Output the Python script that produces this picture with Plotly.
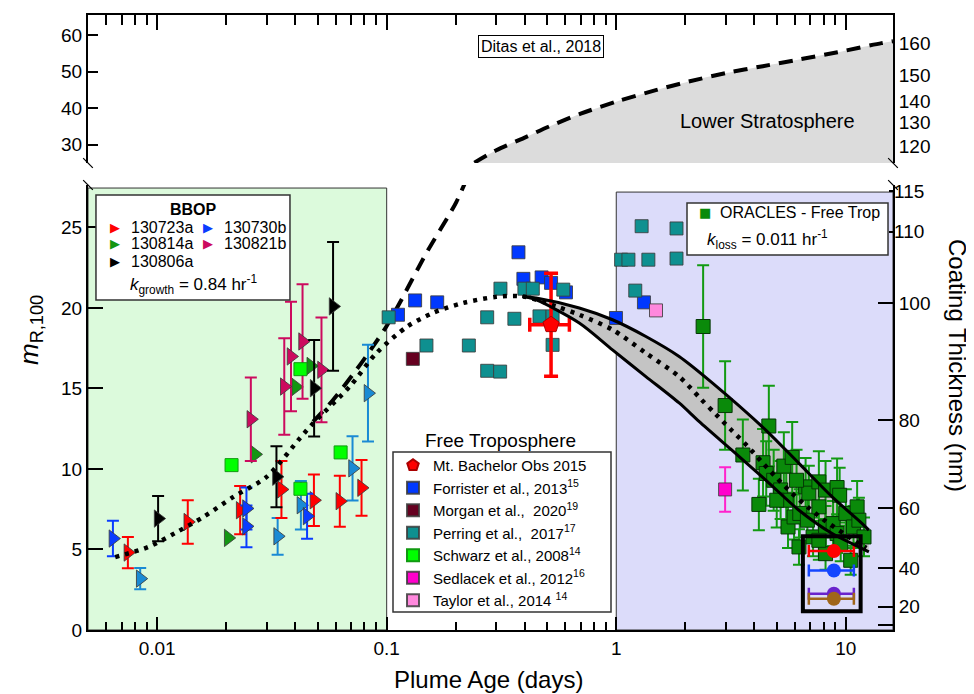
import numpy as np
import plotly.graph_objects as go

FONT = "Liberation Sans, Arial, sans-serif"

# ---------------- data ----------------
# BBOP flights: plume age (days), m_R,100, error
bbop_723a_x = [0.00746, 0.0136, 0.0230, 0.0348, 0.0482, 0.0625, 0.0777]
bbop_723a_y = [4.81, 6.71, 7.44, 8.73, 8.06, 8.00, 8.83]
bbop_723a_e = [0.97, 1.35, 1.5, 1.77, 1.6, 1.58, 1.73]

bbop_730b_x = [0.00642, 0.0245, 0.0245, 0.0450]
bbop_730b_y = [5.68, 7.55, 6.44, 7.07]
bbop_730b_e = [1.1, 1.3, 1.3, 1.4]

bbop_lb_x = [0.00844, 0.0335, 0.0423, 0.0710, 0.0829]
bbop_lb_y = [3.19, 5.82, 7.75, 10.04, 14.71]
bbop_lb_e = [0.66, 1.14, 1.5, 2.0, 3.0]

bbop_814a_x = [0.0204, 0.0267, 0.0402, 0.0467]
bbop_814a_y = [5.72, 10.91, 15.1, 16.4]

bbop_821b_x = [0.0256, 0.0358, 0.0383, 0.0430, 0.0520]
bbop_821b_y = [13.09, 15.12, 16.99, 17.92, 16.16]
bbop_821b_e = [2.6, 3.0, 3.4, 3.55, 3.25]

bbop_806a_x = [0.0101, 0.0331, 0.0483, 0.0584]
bbop_806a_y = [6.92, 9.52, 15.02, 20.10]
bbop_806a_e = [1.4, 1.9, 3.0, 4.0]

# literature
schwarz_x = [0.0211, 0.0421, 0.0421, 0.0630]
schwarz_y = [10.24, 16.2, 8.77, 11.03]

forrister_x = [0.112, 0.133, 0.166, 0.375, 0.394, 0.473, 0.520, 0.604, 0.997, 1.32]
forrister_y = [19.58, 20.47, 20.35, 23.46, 21.81, 21.90, 21.56, 20.97, 19.38, 20.35]

morgan_x = [0.130]
morgan_y = [16.84]

perring_x = [0.102, 0.149, 0.228, 0.274, 0.312, 0.274, 0.360, 0.313, 0.398, 0.433,
             0.463, 0.528, 0.588, 0.528, 1.29, 1.83, 1.05, 1.13, 1.38, 1.83, 1.21]
perring_y = [19.42, 17.67, 17.67, 16.10, 16.05, 19.42, 19.33, 21.20, 21.20, 21.20,
             19.48, 19.48, 21.14, 17.71, 25.08, 24.94, 23.0, 23.0, 23.0, 23.07, 21.08]

taylor_x = [1.49]
taylor_y = [19.85]

sedlacek_x = [2.98]
sedlacek_y = [8.73]
sedlacek_e = [1.38]

mtbach_x = [0.52]
mtbach_y = [18.96]
mtbach_ey = [3.2]
mtbach_ex_minus = [0.10]
mtbach_ex_plus = [0.105]

oracles_x = [2.39, 2.98, 3.56, 4.62, 4.18, 4.36, 4.50, 4.85, 5.20, 5.37, 5.50, 5.84, 5.60,
             5.95, 6.25, 6.68, 6.90, 6.30, 6.80, 7.63, 7.63, 7.20, 8.16, 8.16, 8.16, 7.63,
             9.16, 9.40, 8.80, 9.16, 9.50, 10.5, 10.0, 10.8, 11.2, 11.4, 12.0, 6.10, 5.00]
oracles_y = [18.85, 13.94, 10.87, 12.67, 7.80, 10.39, 9.72, 9.30, 8.70, 10.18, 8.06, 10.72, 6.40,
             7.02, 5.16, 8.89, 8.50, 7.24, 6.82, 9.20, 7.65, 5.78, 8.69, 6.40, 4.74, 5.57,
             8.85, 8.37, 6.61, 5.99, 5.37, 4.33, 7.24, 6.40, 7.65, 6.82, 5.78, 9.30, 8.06]
oracles_e = [3.8, 2.75, 2.2, 2.5, 1.6, 2.1, 2.0, 1.9, 1.8, 2.1, 1.7, 2.2, 1.3,
             1.4, 1.1, 1.8, 1.7, 1.5, 1.4, 1.9, 1.6, 1.2, 1.8, 1.3, 1.0, 1.2,
             1.8, 1.7, 1.4, 1.2, 1.1, 0.9, 1.5, 1.3, 1.6, 1.4, 1.2, 1.9, 1.7]

# points inside the black box (ORACLES region)
box_x = [8.87, 8.87, 8.87, 8.87]
box_y = [4.91, 3.70, 2.25, 1.94]
box_ex_minus = [1.97, 1.97, 1.97, 1.97]
box_ex_plus = [1.97, 1.97, 1.97, 1.97]
box_colors = ["#ff0000", "#1446ff", "#6a22cc", "#a0661a"]

# model curves
dotted_x = [0.00657, 0.00917, 0.0120, 0.0159, 0.0215, 0.0300, 0.0418, 0.0478, 0.069, 0.0902,
            0.123, 0.159, 0.2146, 0.300, 0.391, 0.547, 0.690, 0.963, 1.346, 1.879, 2.335,
            2.713, 3.172, 3.724, 4.30, 4.996, 5.84, 6.90, 8.16, 9.80, 11.39, 12.3]
dotted_y = [4.53, 5.16, 6.03, 7.02, 8.27, 9.51, 11.9, 12.84, 15.12, 17.2,
            18.85, 19.69, 20.31, 20.69, 20.72, 20.1, 19.58, 18.65, 17.2, 15.74, 14.35,
            13.4, 12.42, 11.43, 10.45, 9.45, 8.48, 7.58, 6.76, 5.99, 5.37, 5.1]

band_up_x = [0.39, 0.448, 0.69, 0.963, 1.346, 1.879, 2.62, 4.48, 6.25, 8.72, 11.78, 12.6]
band_up_y = [20.72, 20.62, 20.0, 19.27, 18.23, 16.99, 15.35, 12.42, 10.35, 8.27, 6.61, 6.2]
band_lo_x = [0.39, 0.448, 0.69, 0.963, 1.346, 1.879, 2.30, 3.18, 4.48, 6.25, 8.72, 11.78, 12.6]
band_lo_y = [20.72, 20.5, 19.07, 17.4, 15.74, 14.1, 12.94, 11.18, 9.31, 7.44, 5.99, 5.06, 4.85]

ditas_lo_x = [0.0478, 0.0584, 0.0738, 0.0872, 0.0997, 0.1139, 0.149, 0.201, 0.235]
ditas_lo_y = [12.94, 14.29, 16.16, 17.61, 18.85, 20.31, 23.42, 26.58, 28.8]
ditas_up_x = [0.241, 0.30, 0.397, 0.51, 0.70, 1.0, 1.5, 2.07, 3.0, 4.35, 6.35, 9.2, 14.3, 16.05]
ditas_up_y = [25.1, 28.5, 31.9, 35.0, 38.5, 41.8, 45.0, 47.3, 49.6, 51.5, 53.4, 55.3, 57.8, 58.3]

# axis ticks
x_tickvals = [0.01, 0.1, 1, 10]
x_ticktext = ["0.01", "0.1", "1", "10"]
x_minor = [m * 10.0 ** e for e in range(-3, 2) for m in range(2, 10)]
yl_ticks = [0, 5, 10, 15, 20, 25]
yu_ticks = [30, 40, 50, 60]
right_lo_vals = [0.28, 1.45, 3.83, 7.56, 13.04, 20.29]
right_lo_text = ["", "20", "40", "60", "80", "100"]
right_lo2_vals = [24.74, 27.27]
right_lo2_text = ["110", "115"]
right_up_vals = [29.6, 36.1, 41.8, 49.1, 57.7]
right_up_text = ["120", "130", "140", "150", "160"]

X_RANGE = [np.log10(0.005), np.log10(16.05)]
YL_RANGE = [0, 27.64]
YU_RANGE = [25, 65.5]
LOW_DOM = [0, 0.7236]
UP_DOM = [0.7593, 1]

OUT = "rgba(60,60,60,0.85)"
SPL = dict(shape="spline", smoothing=0.8)

fig = go.Figure()

# gray band (fill only)
fig.add_trace(go.Scatter(x=band_lo_x, y=band_lo_y, mode="lines", line=dict(width=0, **SPL),
                         showlegend=False, hoverinfo="skip"))
fig.add_trace(go.Scatter(x=band_up_x, y=band_up_y, mode="lines", line=dict(width=0, **SPL),
                         fill="tonexty", fillcolor="#c4c4c4", showlegend=False, hoverinfo="skip"))

# Ditas dashed curve (lower panel)
fig.add_trace(go.Scatter(x=ditas_lo_x, y=ditas_lo_y, mode="lines",
                         line=dict(color="black", width=4, dash="14px,9px", **SPL),
                         showlegend=False, hoverinfo="skip"))
# Ditas (upper panel) with stratosphere fill
fig.add_trace(go.Scatter(x=ditas_up_x, y=ditas_up_y, mode="lines", xaxis="x2", yaxis="y2",
                         line=dict(color="black", width=4, dash="14px,9px", **SPL),
                         fill="tozeroy", fillcolor="#dcdcdc", showlegend=False, hoverinfo="skip"))


def sq(x, y, color, name=None, rank=None, size=13, err=None, ecolor=None, lcolor=OUT):
    return go.Scatter(
        x=x, y=y, mode="markers", name=name, showlegend=name is not None,
        legendrank=rank if rank else 1000,
        marker=dict(symbol="square", size=size, color=color, line=dict(color=lcolor, width=1)),
        error_y=dict(type="data", array=err, visible=err is not None,
                     color=ecolor or color, thickness=2, width=6),
        hoverinfo="skip")


def tri(x, y, color, err=None, ecolor=None):
    return go.Scatter(
        x=x, y=y, mode="markers", showlegend=False,
        marker=dict(symbol="triangle-right", size=15, color=color, line=dict(color=OUT, width=1)),
        error_y=dict(type="data", array=err, visible=err is not None,
                     color=ecolor or color, thickness=2, width=6),
        hoverinfo="skip")


# ORACLES
fig.add_trace(sq(oracles_x, oracles_y, "#0a8a0a", size=14, err=oracles_e, ecolor="#129a12",
                 lcolor="#053805"))

# BBOP
fig.add_trace(tri(bbop_lb_x, bbop_lb_y, "#1a8ad4", bbop_lb_e, "#1a8ad4"))
fig.add_trace(tri(bbop_723a_x, bbop_723a_y, "#ff0000", bbop_723a_e))
fig.add_trace(tri(bbop_730b_x, bbop_730b_y, "#0a3cff", bbop_730b_e))
fig.add_trace(tri(bbop_814a_x, bbop_814a_y, "#129612"))
fig.add_trace(tri(bbop_821b_x, bbop_821b_y, "#cc0a5e", bbop_821b_e))
fig.add_trace(tri(bbop_806a_x, bbop_806a_y, "#000000", bbop_806a_e))

# literature squares (legend)
fig.add_trace(sq(forrister_x, forrister_y, "#0038ff", "Forrister et al., 2013<sup>15</sup>", 2))
fig.add_trace(sq(morgan_x, morgan_y, "#660020", "Morgan et al.,  2020<sup>19</sup>", 3))
fig.add_trace(sq(perring_x, perring_y, "#0e9090", "Perring et al.,  2017<sup>17</sup>", 4))
fig.add_trace(sq(schwarz_x, schwarz_y, "#00ff00", "Schwarz et al., 2008<sup>14</sup>", 5, lcolor="#119911"))
fig.add_trace(sq(sedlacek_x, sedlacek_y, "#ff00cc", "Sedlacek et al., 2012<sup>16</sup>", 6,
                 err=sedlacek_e, ecolor="#ff22cc"))
fig.add_trace(sq(taylor_x, taylor_y, "#ff88dd", "Taylor et al., 2014 <sup>14</sup>", 7))

# Mt. Bachelor
fig.add_trace(go.Scatter(
    x=mtbach_x, y=mtbach_y, mode="markers", name="Mt. Bachelor Obs 2015", legendrank=1,
    marker=dict(symbol="pentagon", size=17, color="#ff0000", line=dict(color="#aa0000", width=1)),
    error_y=dict(type="data", array=mtbach_ey, color="#ff0000", thickness=3.5, width=7),
    error_x=dict(type="data", array=mtbach_ex_plus, arrayminus=mtbach_ex_minus,
                 color="#ff0000", thickness=3.5, width=7),
    hoverinfo="skip"))

# points in the black box
for i in range(len(box_x)):
    fig.add_trace(go.Scatter(
        x=[box_x[i]], y=[box_y[i]], mode="markers", showlegend=False,
        marker=dict(symbol="circle", size=14, color=box_colors[i]),
        error_x=dict(type="data", array=[box_ex_plus[i]], arrayminus=[box_ex_minus[i]],
                     color=box_colors[i], thickness=2.5, width=6),
        hoverinfo="skip"))

# band edges + dotted fit on top
fig.add_trace(go.Scatter(x=band_up_x, y=band_up_y, mode="lines",
                         line=dict(color="black", width=3, **SPL), showlegend=False, hoverinfo="skip"))
fig.add_trace(go.Scatter(x=band_lo_x, y=band_lo_y, mode="lines",
                         line=dict(color="black", width=3, **SPL), showlegend=False, hoverinfo="skip"))
fig.add_trace(go.Scatter(x=dotted_x, y=dotted_y, mode="lines",
                         line=dict(color="black", width=4.5, dash="4px,6px", **SPL),
                         showlegend=False, hoverinfo="skip"))

# dummy traces so overlay axes are drawn
for ya in ["y3", "y4", "y5"]:
    fig.add_trace(go.Scatter(x=[None], y=[None], yaxis=ya, showlegend=False, hoverinfo="skip"))

# ---------------- layout ----------------
TICKF = dict(family=FONT, size=19, color="black")
axis_common = dict(showgrid=False, zeroline=False, showline=True, linecolor="black", linewidth=2,
                   ticks="inside", tickcolor="black", tickwidth=2, tickfont=TICKF, automargin=False)

# the page adds an 8px body margin, so the figure is 8px smaller and its margins shifted
fig.update_layout(
    width=966, height=686,
    margin=dict(l=80, r=81, t=7, b=64, autoexpand=False),
    paper_bgcolor="white", plot_bgcolor="white",
    font=dict(family=FONT, color="black"),
    xaxis=dict(axis_common, type="log", range=X_RANGE, domain=[0, 1], anchor="y",
               tickvals=x_tickvals, ticktext=x_ticktext, ticklen=13,
               minor=dict(ticks="inside", ticklen=8, tickvals=x_minor, tickcolor="black", tickwidth=2)),
    xaxis2=dict(axis_common, type="log", range=X_RANGE, domain=[0, 1], anchor="y2", side="top",
                matches="x", tickvals=x_tickvals, showticklabels=False, ticklen=15,
                minor=dict(ticks="inside", ticklen=10, tickvals=x_minor, tickcolor="black", tickwidth=2)),
    yaxis=dict(axis_common, domain=LOW_DOM, range=YL_RANGE, anchor="x", tickvals=yl_ticks, ticklen=15),
    yaxis2=dict(axis_common, domain=UP_DOM, range=YU_RANGE, anchor="x2", tickvals=yu_ticks, ticklen=10),
    yaxis3=dict(axis_common, overlaying="y", side="right", anchor="x", range=YL_RANGE,
                tickvals=right_lo_vals, ticktext=right_lo_text, ticklen=15),
    yaxis5=dict(axis_common, overlaying="y", side="right", anchor="x", range=YL_RANGE, showline=False,
                tickvals=right_lo2_vals, ticktext=right_lo2_text, ticklen=4),
    yaxis4=dict(axis_common, overlaying="y2", side="right", anchor="x2", range=YU_RANGE,
                tickvals=right_up_vals, ticktext=right_up_text, ticklen=8),
    legend=dict(x=(393 - 88) / 805.0, y=(630 - 449) / 615.0, xanchor="left", yanchor="top",
                bgcolor="rgba(0,0,0,0)", borderwidth=0, font=dict(family=FONT, size=15),
                itemsizing="constant", tracegroupgap=0, traceorder="normal"),
    showlegend=True,
)

# region shapes
shapes = [
    dict(type="rect", xref="x", yref="y", x0=10 ** X_RANGE[0], x1=0.1, y0=0, y1=27.45,
         fillcolor="#dcfadc", line=dict(color="#333333", width=1), layer="below"),
    dict(type="rect", xref="x", yref="y", x0=1, x1=10 ** X_RANGE[1], y0=0, y1=27.2,
         fillcolor="#dcdcfa", line=dict(color="#333333", width=1), layer="below"),
    dict(type="rect", xref="x", yref="y", x0=6.5, x1=11.6, y0=1.17, y1=5.82,
         line=dict(color="black", width=4)),
    # BBOP legend box
    dict(type="rect", xref="paper", yref="paper", x0=0.0099, x1=0.2509, y0=0.5366, y1=0.7073,
         fillcolor="white", line=dict(color="#333333", width=1.5)),
    # ORACLES legend box
    dict(type="rect", xref="paper", yref="paper", x0=0.7441, x1=0.9938, y0=0.6098, y1=0.6943,
         fillcolor="white", line=dict(color="#333333", width=1.5)),
    # main legend box
    dict(type="rect", xref="paper", yref="paper", x0=(393 - 88) / 805.0, x1=(611 - 88) / 805.0,
         y0=(630 - 612) / 615.0, y1=(630 - 452) / 615.0,
         fillcolor="white", line=dict(color="#333333", width=1.5)),
]
# axis break marks
for bx in [0, 1]:
    for by in [LOW_DOM[1], UP_DOM[0]]:
        shapes.append(dict(type="line", xref="paper", yref="paper",
                           x0=bx - 0.006, x1=bx + 0.006, y0=by + 0.008, y1=by - 0.008,
                           line=dict(color="black", width=1.2)))
fig.update_layout(shapes=shapes)


def px2paper(px, py):
    # reference-picture pixels -> paper fractions of the plot area (x 88..893, y 15..630)
    return (px - 88) / 805.0, (630 - py) / 615.0


ann = []


def text(px, py, s, size, xanchor="center", color="black", family=FONT, **kw):
    x, y = px2paper(px, py)
    d = dict(x=x, y=y, xref="paper", yref="paper", text=s, showarrow=False,
             xanchor=xanchor, yanchor="middle", font=dict(family=family, size=size, color=color))
    d.update(kw)
    ann.append(d)


# BBOP legend
text(193, 210, "<b>BBOP</b>", 16)
bbop_leg = [(115, 227, "#ff0000", "130723a"), (208, 227, "#0a3cff", "130730b"),
            (115, 244, "#129612", "130814a"), (208, 244, "#cc0a5e", "130821b"),
            (115, 261, "#000000", "130806a")]
for gx, gy, c, lab in bbop_leg:
    text(gx, gy, "▶", 13, color=c, family="DejaVu Sans")
    text(gx + 14, gy, lab, 16, xanchor="left")
text(193, 284, "<i>k</i><sub>growth</sub> = 0.84 hr<sup>-1</sup>", 17)

# ORACLES legend
text(705, 213, "■", 13, color="#0a8a0a", family="DejaVu Sans")
text(718, 213, "ORACLES - Free Trop", 16, xanchor="left")
text(705, 239, "<i>k</i><sub>loss</sub> = 0.011 hr<sup>-1</sup>", 17, xanchor="left")

# region labels
text(500, 441, "Free Troposphere", 19)
text(767, 121, "Lower Stratosphere", 20)
text(541, 46, "Ditas et al., 2018", 16, bordercolor="black", borderwidth=1, bgcolor="white", borderpad=2)

# axis titles
text(488, 679, "Plume Age (days)", 24)
text(30, 330, "<i>m</i><sub>R,100</sub>", 26, textangle=-90)
text(958, 365, "Coating Thickness (nm)", 24, textangle=90)

fig.update_layout(annotations=ann)

fig.write_html("out.html")
